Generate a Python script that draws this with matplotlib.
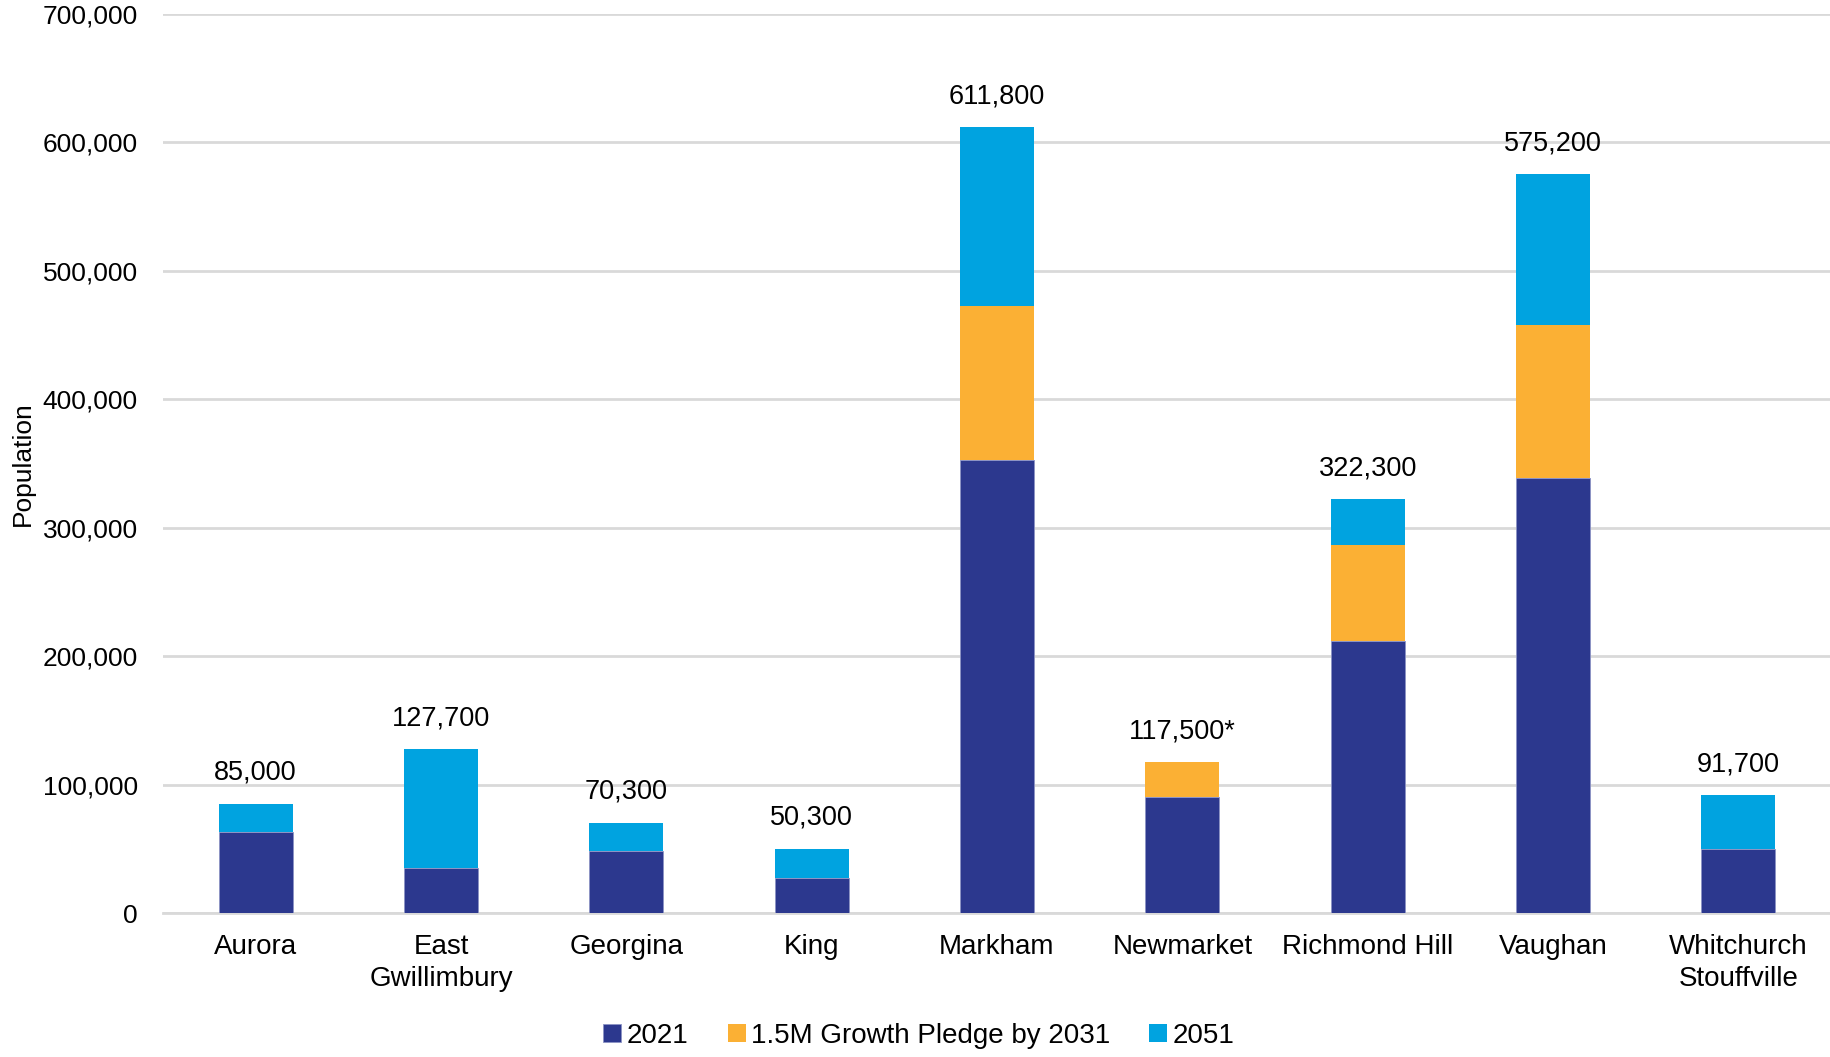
import numpy as np
import matplotlib
matplotlib.use("Agg")
import matplotlib.pyplot as plt
from matplotlib.ticker import FuncFormatter

plt.rcParams['font.family'] = ['Liberation Sans', 'DejaVu Sans']

# dados
municipios = ["Aurora", "East\nGwillimbury", "Georgina", "King", "Markham",
              "Newmarket", "Richmond Hill", "Vaughan", "Whitchurch\nStouffville"]
pop_2021 = [63300, 35000, 48400, 27200, 352400, 90300, 211700, 338400, 49700]
pledge_2031 = [0, 0, 0, 0, 120000, 27200, 74600, 119000, 0]
pop_2051 = [21700, 92700, 21900, 23100, 139400, 0, 36000, 117800, 42000]
rotulos = ["85,000", "127,700", "70,300", "50,300", "611,800",
           "117,500*", "322,300", "575,200", "91,700"]

cor_2021 = "#2C388E"
cor_pledge = "#FBB034"
cor_2051 = "#00A3E0"

fig = plt.figure(figsize=(18.31, 10.57), dpi=100)
ax = fig.add_axes([0.089, 0.136, 0.911, 0.851])

x = np.arange(len(municipios))
largura = 0.4
base2 = np.array(pop_2021)
base3 = base2 + np.array(pledge_2031)
total = base3 + np.array(pop_2051)

ax.bar(x, pop_2021, largura, color=cor_2021, label="2021", zorder=3,
       edgecolor="#8c93c4", linewidth=0.6)
ax.bar(x, pledge_2031, largura, bottom=base2, color=cor_pledge,
       label="1.5M Growth Pledge by 2031", zorder=3)
ax.bar(x, pop_2051, largura, bottom=base3, color=cor_2051, label="2051", zorder=3)

for xi, t, r in zip(x, total, rotulos):
    ax.annotate(r, (xi, t), xytext=(0, 13), textcoords="offset points",
                ha="center", va="bottom", fontsize=19.5)

ax.set_xlim(-0.5, len(municipios) - 0.5)
ax.set_ylim(0, 700000)
ax.set_yticks(np.arange(0, 700001, 100000))
ax.yaxis.set_major_formatter(FuncFormatter(lambda v, p: f"{int(v):,}"))
ax.set_xticks(x)
ax.set_xticklabels(municipios, fontsize=20, linespacing=1.3)
ax.tick_params(axis="y", labelsize=19, length=0, pad=18)
ax.tick_params(axis="x", length=0, pad=15)

ax.grid(axis="y", color="#D9D9D9", linewidth=2, zorder=0)
for s in ["top", "right", "left"]:
    ax.spines[s].set_visible(False)
ax.spines["bottom"].set_color("#D9D9D9")
ax.spines["bottom"].set_linewidth(2)

fig.text(0.0125, 0.561, "Population", rotation=90, ha="center", va="center", fontsize=19)

fig.legend(loc="lower center", bbox_to_anchor=(0.502, -0.016), ncol=3, frameon=False,
           fontsize=20, handlelength=0.65, handleheight=0.65, handletextpad=0.2,
           columnspacing=1.4)

plt.savefig("out.png", dpi=100)
